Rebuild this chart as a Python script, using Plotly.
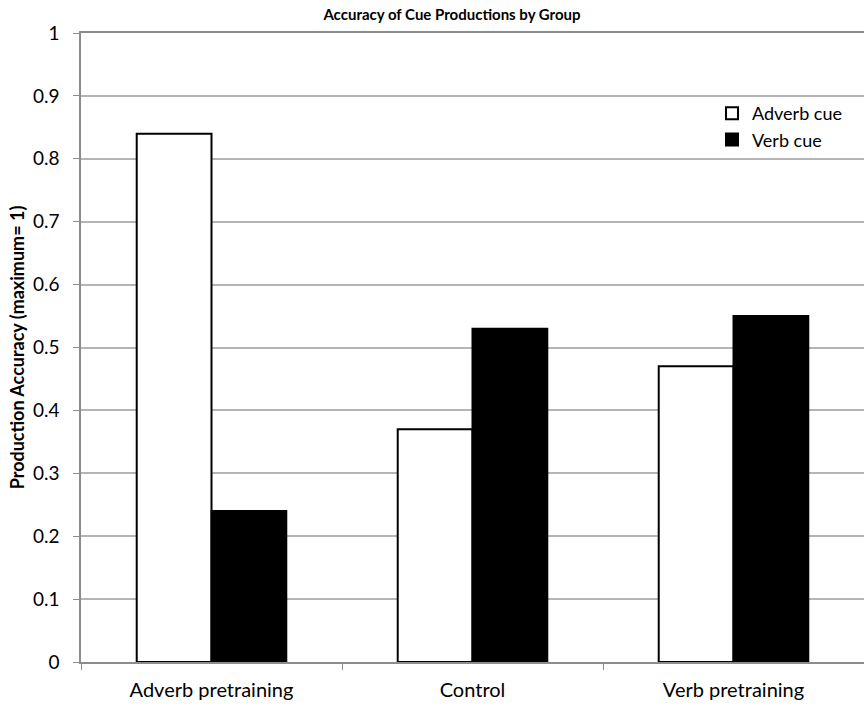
import plotly.graph_objects as go

categories = ["Adverb pretraining", "Control", "Verb pretraining"]
adverb_cue = [0.84, 0.37, 0.47]
verb_cue = [0.24, 0.53, 0.55]
y_ticks = [0, 0.1, 0.2, 0.3, 0.4, 0.5, 0.6, 0.7, 0.8, 0.9, 1]

FONT = "Lato"
W, H = 864, 705
L, T, B = 81, 33, 43
PW, PH = W - L, H - T - B

fig = go.Figure()
fig.add_trace(go.Bar(x=categories, y=adverb_cue, name="Adverb cue",
                     marker=dict(color="white", line=dict(color="black", width=2))))
fig.add_trace(go.Bar(x=categories, y=verb_cue, name="Verb cue",
                     marker=dict(color="black", line=dict(color="black", width=2))))

fig.update_layout(
    width=W, height=H,
    margin=dict(l=L, r=0, t=T, b=B, pad=0),
    paper_bgcolor="white", plot_bgcolor="white",
    barmode="group", bargap=0.427, bargroupgap=0,
    font=dict(family=FONT, color="black", size=19),
    title=dict(text="<b>Accuracy of Cue Productions by Group</b>",
               x=452 / W, xanchor="center", y=1 - 15 / H, yanchor="middle",
               font=dict(size=15, family=FONT)),
    legend=dict(x=(712 - L) / PW, y=1 - (95 - T) / PH, xanchor="left", yanchor="top",
                font=dict(size=18), bgcolor="rgba(0,0,0,0)", itemwidth=30,
                tracegroupgap=0),
    showlegend=True,
)
fig.update_xaxes(
    showline=True, linecolor="#8c8c8c", linewidth=1.5, mirror=True,
    ticks="outside", tickson="boundaries", ticklen=6, tickcolor="#8c8c8c",
    tickfont=dict(size=20), showgrid=False, automargin=False,
    ticklabelstandoff=9,
)
fig.update_yaxes(
    range=[0, 1], tickvals=y_ticks, ticktext=[str(v) for v in y_ticks],
    showline=True, linecolor="#8c8c8c", linewidth=1.5,
    ticks="outside", ticklen=6, tickcolor="#8c8c8c",
    showgrid=True, gridcolor="#b5b5b5", gridwidth=1.5,
    tickfont=dict(size=19), automargin=False, ticklabelstandoff=10,
    title=dict(text="<b>Production Accuracy (maximum= 1)</b>", font=dict(size=18), standoff=4),
    zeroline=False,
)

# remove the browser's default 8px body margin so the figure fills the window
fig.write_html("out.html", config={"displayModeBar": False},
               post_script="document.body.style.margin='0';document.body.style.overflow='hidden';")
